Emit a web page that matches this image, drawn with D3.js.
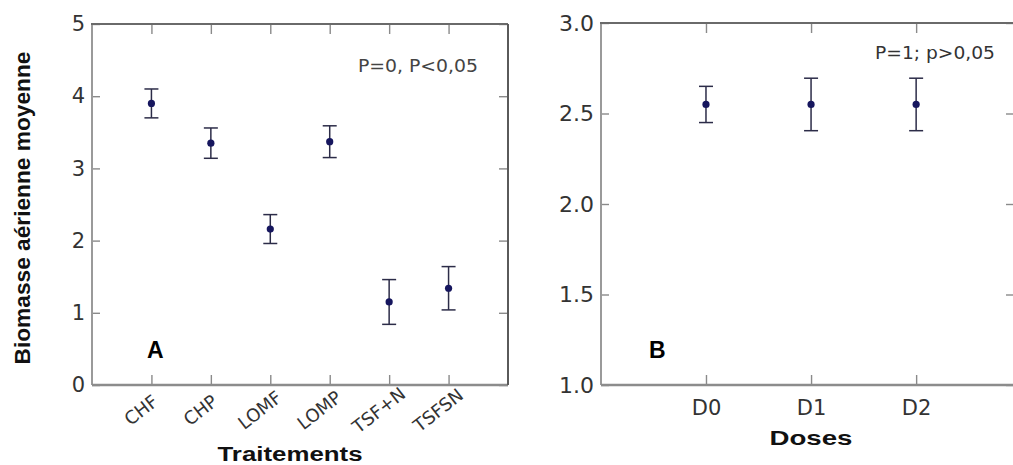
<!DOCTYPE html>
<html><head><meta charset="utf-8">
<script src="https://cdn.jsdelivr.net/npm/d3@7"></script>
<style>
body{margin:0;background:#fff;}
svg{display:block;}
</style></head>
<body>
<svg id="chart" width="1013" height="465"></svg>
<script>
// ---- data ----
const catsA = ["CHF","CHP","LOMF","LOMP","TSF+N","TSFSN"];
const meanA = [3.9, 3.35, 2.16, 3.37, 1.15, 1.34];
const errA  = [0.2, 0.21, 0.2, 0.22, 0.31, 0.3];
const yTicksA = [0,1,2,3,4,5];

const catsB = ["D0","D1","D2"];
const meanB = [2.55, 2.55, 2.55];
const errB  = [0.1, 0.145, 0.145];
const yTicksB = [1.0,1.5,2.0,2.5,3.0];

const svg = d3.select("#chart");
const tickFont = "DejaVu Sans, sans-serif";

function panel(o){
  const g = svg.append("g");
  const {x,y,left,right,top,bottom} = o;
  const ax = [
    [d3.axisLeft(y).tickValues(o.yTicks).tickSize(-8).tickPadding(7).tickFormat(o.yFmt), `translate(${left},0)`, "left"],
    [d3.axisRight(y).tickValues(o.yTicks).tickSize(-9).tickFormat(""), `translate(${right},0)`, "right"],
    [d3.axisTop(x).tickSize(-10).tickFormat(""), `translate(0,${top})`, "top"],
    [d3.axisBottom(x).tickSize(-10).tickPadding(o.xPad), `translate(0,${bottom})`, "bottom"]
  ];
  ax.forEach(([a,tr,side])=>{
    const ag = g.append("g").attr("transform",tr).call(a);
    ag.select(".domain").remove();
    ag.selectAll(".tick line").attr("stroke","#8a8a8a").attr("stroke-width",1.4);
    ag.selectAll("text").attr("font-family",tickFont).attr("fill","#333");
    if(side==="left") ag.selectAll("text").attr("font-size",o.yFontSize);
    if(side==="bottom"){
      const t = ag.selectAll("text").attr("font-size",o.xFontSize);
      if(o.rotate){
        t.attr("x",-11).attr("y",25).attr("dy",null)
         .attr("dominant-baseline","central")
         .attr("text-anchor","middle")
         .attr("transform",`rotate(${o.rotate},-11,25)`);
      }
    }
  });
  const line = (x1,y1,x2,y2,c,w)=>g.append("line").attr("x1",x1).attr("y1",y1).attr("x2",x2).attr("y2",y2).attr("stroke",c).attr("stroke-width",w);
  line(left,top,left,bottom,"#9a9a9a",2);
  line(left,bottom,right,bottom,"#8c8c8c",2.5);
  line(left-1,top,right,top,"#6a6a6a",2);
  line(right,top,right,bottom,"#5a5a5a",2);
  const eg = g.append("g");
  o.cats.forEach((c,i)=>{
    const cx = x(c), m=o.mean[i], e=o.err[i];
    eg.append("line").attr("x1",cx).attr("x2",cx).attr("y1",y(m+e)).attr("y2",y(m-e)).attr("stroke","#2c2c48").attr("stroke-width",1.5);
    [m+e,m-e].forEach(v=>eg.append("line").attr("x1",cx-7).attr("x2",cx+7).attr("y1",y(v)).attr("y2",y(v)).attr("stroke","#2c2c48").attr("stroke-width",1.5));
    eg.append("circle").attr("cx",cx).attr("cy",y(m)).attr("r",3.6).attr("fill","#16165e");
  });
  return g;
}

// Panel A
const xA = d3.scalePoint().domain(catsA).range([92,508]).padding(1);
const yA = d3.scaleLinear().domain([0,5]).range([385,24]);
panel({x:xA,y:yA,left:92,right:508,top:24,bottom:385,yTicks:yTicksA,yFmt:d3.format("d"),
  cats:catsA,mean:meanA,err:errA,yFontSize:"21px",xFontSize:"18px",rotate:-38,xPad:10});

// Panel B
const xB = d3.scalePoint().domain(catsB).range([601,1015]).padding(0.97).align(0.515);
const yB = d3.scaleLinear().domain([1,3]).range([385,23]);
panel({x:xB,y:yB,left:601,right:1015,top:23,bottom:385,yTicks:yTicksB,yFmt:d3.format(".1f"),
  cats:catsB,mean:meanB,err:errB,yFontSize:"22px",xFontSize:"21px",rotate:null,xPad:15});

// Titles & annotations
svg.append("text").attr("transform","translate(30,208) rotate(-90)")
  .attr("text-anchor","middle").attr("font-family","Liberation Sans, Arial, sans-serif")
  .attr("font-weight","bold").attr("font-size","22px").attr("fill","#111")
  .attr("textLength",313).attr("lengthAdjust","spacingAndGlyphs")
  .text("Biomasse aérienne moyenne");

svg.append("text").attr("x",290).attr("y",461).attr("text-anchor","middle")
  .attr("font-family","Liberation Sans, Arial, sans-serif").attr("font-weight","bold")
  .attr("font-size","20px").attr("fill","#111")
  .attr("textLength",145).attr("lengthAdjust","spacingAndGlyphs")
  .text("Traitements");

svg.append("text").attr("x",811).attr("y",445).attr("text-anchor","middle")
  .attr("font-family","Liberation Sans, Arial, sans-serif").attr("font-weight","bold")
  .attr("font-size","21px").attr("fill","#111")
  .attr("textLength",83).attr("lengthAdjust","spacingAndGlyphs")
  .text("Doses");

[["A",147],["B",649]].forEach(([t,x])=>svg.append("text").attr("x",x).attr("y",358)
  .attr("font-family","Liberation Sans, Arial, sans-serif").attr("font-weight","bold")
  .attr("font-size","23px").attr("fill","#000").text(t));

svg.append("text").attr("x",358).attr("y",72).attr("font-family",tickFont)
  .attr("font-size","18px").attr("fill","#444")
  .attr("textLength",120).attr("lengthAdjust","spacingAndGlyphs").text("P=0, P<0,05");
svg.append("text").attr("x",875).attr("y",59).attr("font-family",tickFont)
  .attr("font-size","18px").attr("fill","#333")
  .attr("textLength",120).attr("lengthAdjust","spacingAndGlyphs").text("P=1; p>0,05");
</script>
</body></html>
